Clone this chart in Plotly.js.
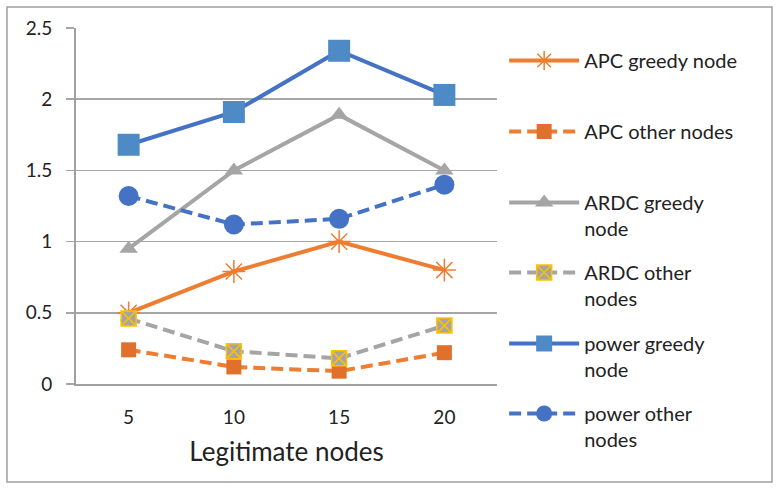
<!DOCTYPE html>
<html>
<head>
<meta charset="utf-8">
<script src="https://cdn.plot.ly/plotly-3.0.1.min.js"></script>
<style>html,body{margin:0;padding:0;background:#fff;}#chart{width:779px;height:490px;}</style>
</head>
<body>
<div id="chart"></div>
<script>
const categories = ['5', '10', '15', '20'];
const apcGreedy   = [0.50, 0.79, 1.00, 0.80];
const apcOther    = [0.24, 0.12, 0.09, 0.22];
const ardcGreedy  = [0.95, 1.50, 1.89, 1.50];
const ardcOther   = [0.46, 0.23, 0.18, 0.41];
const powerGreedy = [1.68, 1.91, 2.34, 2.03];
const powerOther  = [1.32, 1.12, 1.16, 1.40];
const seriesNames = ['APC greedy node', 'APC other nodes', 'ARDC greedy<br>node', 'ARDC other<br>nodes', 'power greedy<br>node', 'power other<br>nodes'];

const ORANGE = '#ED7D31', GRAY = '#A5A5A5', BLUE = '#4472C4';
const dash = '12px,6px';
const LW = 4;

const traces = [
  {y: apcGreedy, name: seriesNames[0], line: {color: ORANGE, width: LW},
   marker: {symbol: 'asterisk-open', size: 19, line: {color: ORANGE, width: 1.5}}, legend: 'legend'},
  {y: apcOther, name: seriesNames[1], line: {color: ORANGE, width: LW, dash: dash},
   marker: {symbol: 'square', size: 15, color: '#E0702C'}, legend: 'legend2'},
  {y: ardcGreedy, name: seriesNames[2], line: {color: GRAY, width: LW},
   marker: {symbol: 'triangle-up', size: 16, color: GRAY}, legend: 'legend3'},
  {y: ardcOther, name: seriesNames[3], line: {color: GRAY, width: LW, dash: dash},
   marker: {symbol: 'square-x', size: 15, color: GRAY, line: {color: '#FFC000', width: 1.5}}, legend: 'legend4'},
  {y: powerGreedy, name: seriesNames[4], line: {color: BLUE, width: LW},
   marker: {symbol: 'square', size: 22, color: '#4E8BC6'}, legend: 'legend5'},
  {y: powerOther, name: seriesNames[5], line: {color: BLUE, width: LW, dash: dash},
   marker: {symbol: 'circle', size: 20, color: BLUE}, legend: 'legend6'}
].map(t => Object.assign({x: categories, type: 'scatter', mode: 'lines+markers', cliponaxis: false}, t));

const legendBase = {
  xanchor: 'left', yanchor: 'top', x: 1.017, bgcolor: 'rgba(0,0,0,0)',
  font: {family: 'Lato, sans-serif', size: 20, color: '#222'}, valign: 'top', itemwidth: 70
};
function lg(yPix) { return Object.assign({}, legendBase, {y: (384 - yPix) / 356}); }

const layout = {
  width: 779, height: 490,
  margin: {l: 76, r: 282, t: 28, b: 106},
  paper_bgcolor: '#fff', plot_bgcolor: '#fff',
  showlegend: true,
  legend: lg(41), legend2: lg(112), legend3: lg(183), legend4: lg(253), legend5: lg(324), legend6: lg(394),
  xaxis: {
    type: 'category', range: [-0.5, 3.5], showgrid: false, zeroline: false,
    showline: true, linecolor: '#A0A0A0', linewidth: 2, ticks: '',
    tickfont: {family: 'Lato, sans-serif', size: 19, color: '#222'}, ticklabelstandoff: 15,
    title: {text: 'Legitimate nodes', font: {family: 'Lato, sans-serif', size: 26, color: '#222'}, standoff: 16}
  },
  yaxis: {
    range: [0, 2.5], dtick: 0.5, tick0: 0, showgrid: true, gridcolor: '#A6A6A6', gridwidth: 1.5,
    zeroline: false, showline: true, linecolor: '#A0A0A0', linewidth: 2,
    ticks: 'outside', ticklen: 8, tickcolor: '#A6A6A6', tickwidth: 1.5,
    tickfont: {family: 'Lato, sans-serif', size: 19, color: '#222'}, ticklabelstandoff: 10
  },
  shapes: [{type: 'rect', xref: 'paper', yref: 'paper',
    x0: (7 - 76) / 421, x1: (772 - 76) / 421, y0: (384 - 482) / 356, y1: (384 - 7) / 356,
    line: {color: '#A0A0A0', width: 1.5}, fillcolor: 'rgba(0,0,0,0)', layer: 'below'}]
};

Plotly.newPlot('chart', traces, layout, {displayModeBar: false, staticPlot: true});
</script>
</body>
</html>
